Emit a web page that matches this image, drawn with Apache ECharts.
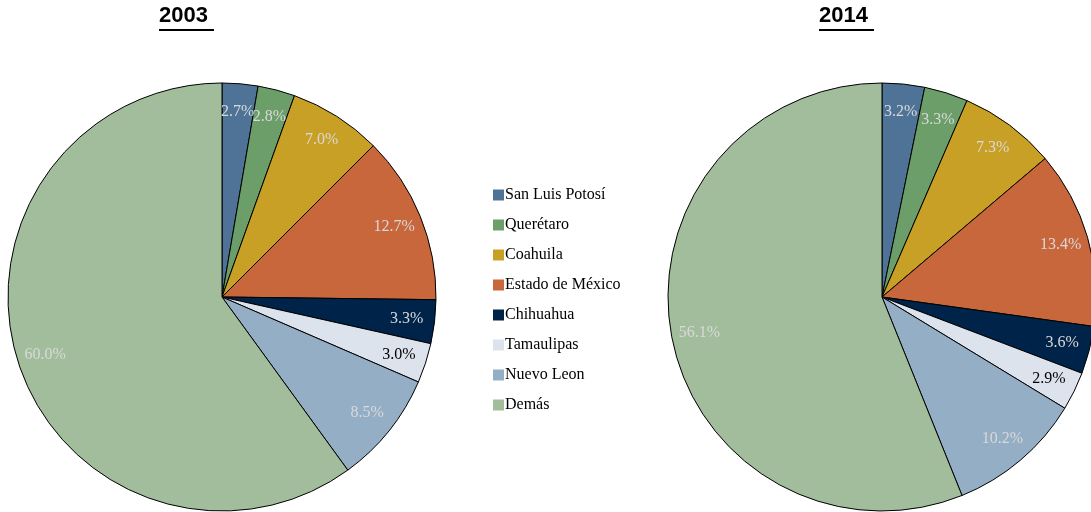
<!DOCTYPE html>
<html>
<head>
<meta charset="utf-8">
<script src="https://cdn.jsdelivr.net/npm/echarts@6/dist/echarts.min.js"></script>
<style>
  html, body { margin: 0; padding: 0; background: #fff; }
  #chart { width: 1091px; height: 512px; }
</style>
</head>
<body>
<div id="chart"></div>
<script>
// Participación por entidad, 2003 y 2014 (%)
const states = ['San Luis Potosí', 'Querétaro', 'Coahuila', 'Estado de México',
                'Chihuahua', 'Tamaulipas', 'Nuevo Leon', 'Demás'];
const share2003 = [2.7, 2.8, 7.0, 12.7, 3.3, 3.0, 8.5, 60.0];
const share2014 = [3.2, 3.3, 7.3, 13.4, 3.6, 2.9, 10.2, 56.1];
const years = ['2003', '2014'];

const palette = ['#4E7397', '#6B9E68', '#C9A026', '#C8663C',
                 '#00234A', '#DCE3ED', '#94AEC5', '#A2BD9C'];
const labelColors = ['#D9D9D9', '#D9D9D9', '#D9D9D9', '#D9D9D9',
                     '#D9D9D9', '#000000', '#D9D9D9', '#D9D9D9'];

const R = 214;
const centers = [[222, 297], [882, 297]];

function slices(values) {
  return states.map((name, i) => ({ name, value: values[i] }));
}

function piePair(values, center) {
  // filled pie with black outlines
  const body = {
    type: 'pie',
    center: center,
    radius: [0, R],
    startAngle: 90,
    clockwise: true,
    avoidLabelOverlap: false,
    silent: true,
    label: { show: false },
    labelLine: { show: false },
    itemStyle: {
      color: (p) => palette[p.dataIndex],
      borderColor: '#000',
      borderWidth: 1
    },
    emphasis: { disabled: true },
    data: slices(values)
  };
  // transparent ring that carries the percentage labels near the rim
  const labels = {
    type: 'pie',
    center: center,
    radius: [152, R],
    startAngle: 90,
    clockwise: true,
    avoidLabelOverlap: false,
    silent: true,
    labelLine: { show: false },
    labelLayout: { hideOverlap: false },
    itemStyle: { color: 'rgba(0,0,0,0)', borderWidth: 0 },
    emphasis: { disabled: true },
    label: {
      show: true,
      position: 'inside',
      fontFamily: 'Liberation Serif',
      fontSize: 16,
      formatter: (p) => p.value.toFixed(1) + '%'
    },
    data: slices(values).map((d, i) => ({
      ...d,
      label: { color: labelColors[i] }
    }))
  };
  return [body, labels];
}

function yearTitle(text, cx) {
  return {
    type: 'group',
    left: cx - 28,
    top: 5,
    children: [
      {
        type: 'text',
        left: 0, top: 0,
        style: {
          text: text,
          font: 'bold 22px "Liberation Sans", Arial, sans-serif',
          fill: '#000'
        }
      },
      {
        type: 'rect',
        shape: { x: 0, y: 24, width: 55, height: 2 },
        style: { fill: '#000' }
      }
    ]
  };
}

const chart = echarts.init(document.getElementById('chart'), null, { renderer: 'canvas' });
chart.setOption({
  animation: false,
  backgroundColor: '#fff',
  legend: {
    orient: 'vertical',
    left: 488,
    top: 182,
    itemGap: 14,
    itemWidth: 11,
    itemHeight: 11,
    icon: 'rect',
    selectedMode: false,
    itemStyle: { borderWidth: 0 },
    textStyle: {
      fontFamily: 'Liberation Serif',
      fontSize: 16,
      lineHeight: 16,
      color: '#000',
      padding: [0, 0, 0, -4]
    },
    data: states.map((n, i) => ({
      name: n,
      itemStyle: { color: palette[i], borderWidth: 0 }
    }))
  },
  graphic: [yearTitle(years[0], 187), yearTitle(years[1], 847)],
  series: [...piePair(share2003, centers[0]), ...piePair(share2014, centers[1])]
});
</script>
</body>
</html>
